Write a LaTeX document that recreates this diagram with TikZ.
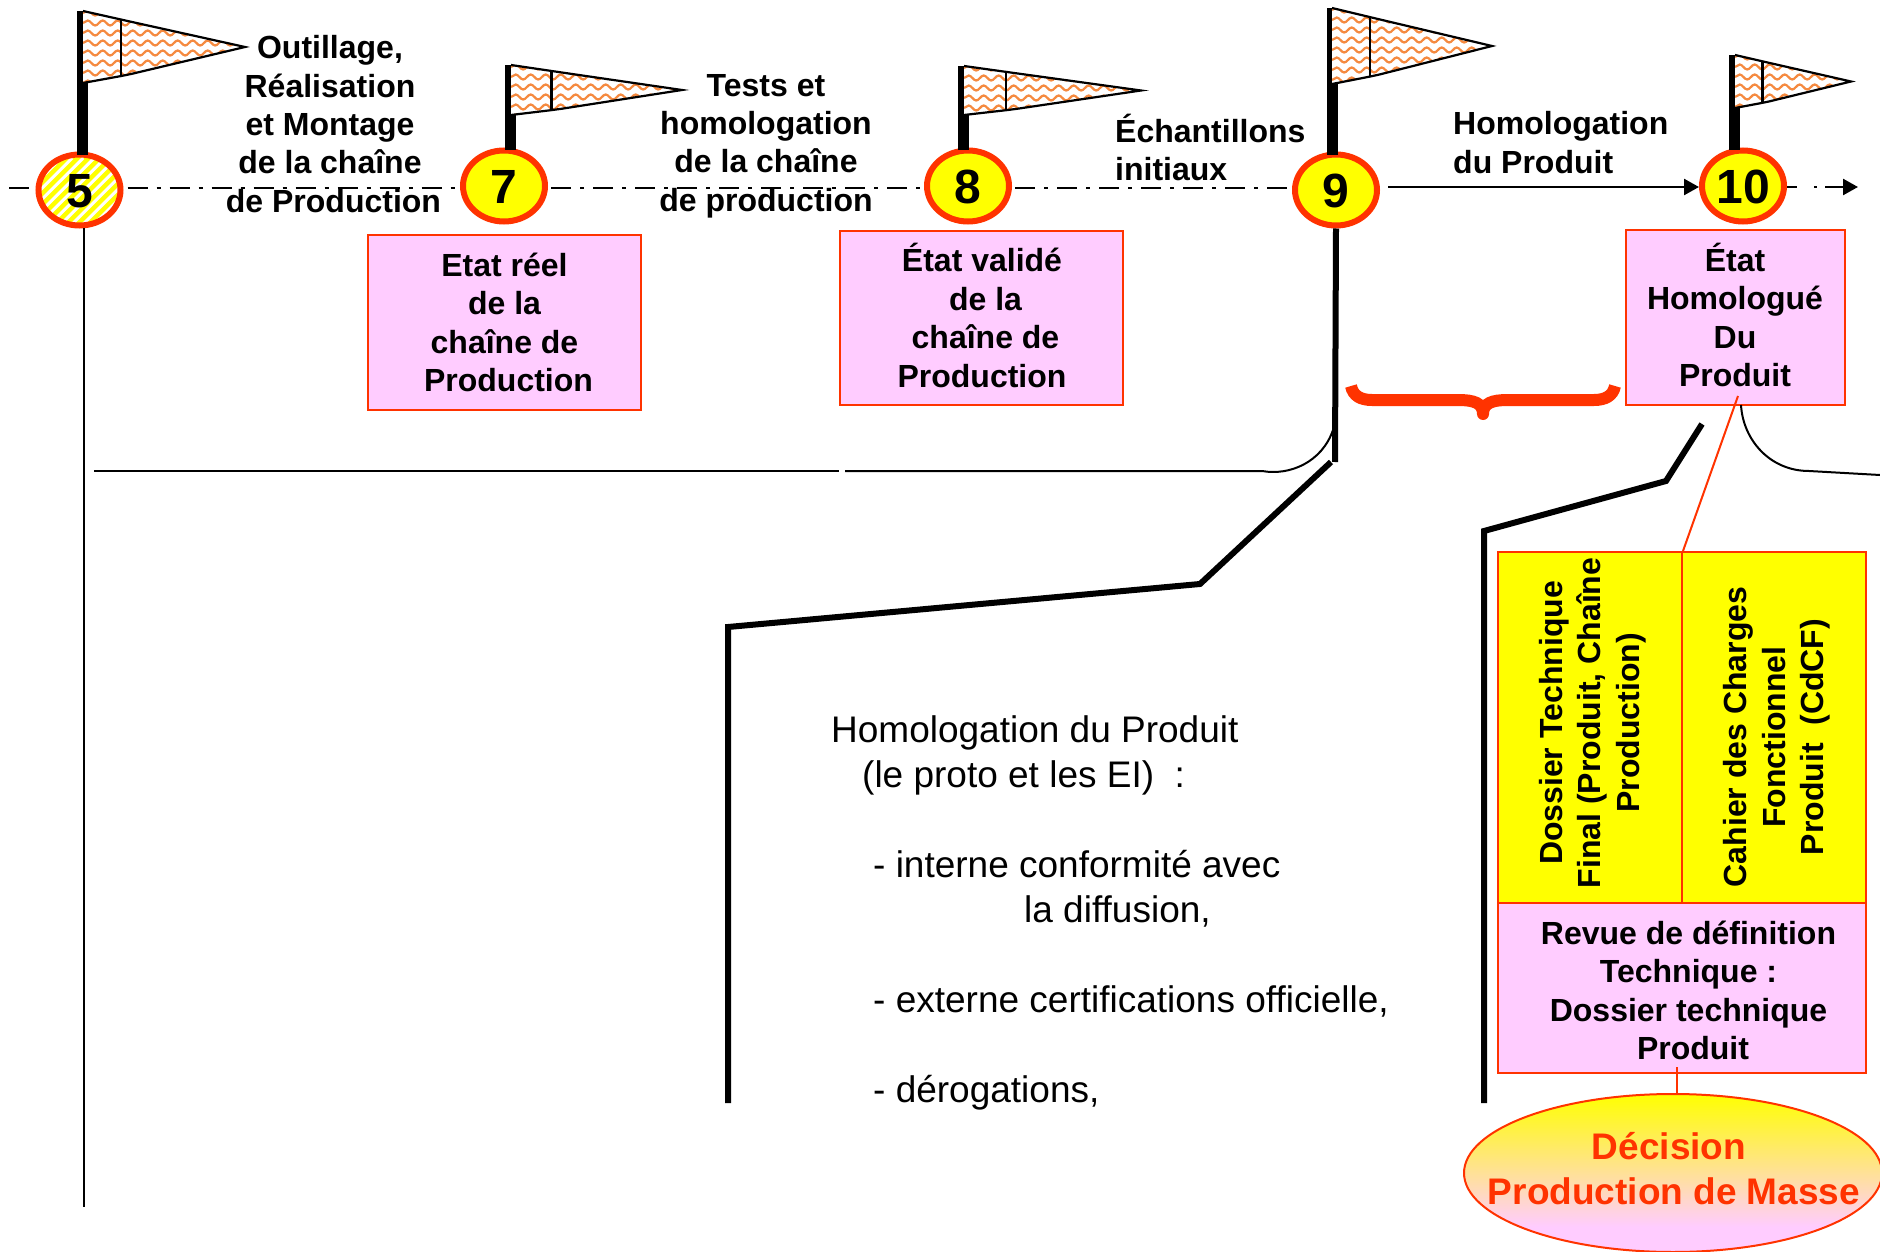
\documentclass[tikz,border=0pt]{standalone}
\usepackage{fontspec}
\setmainfont{Liberation Sans}
\usetikzlibrary{shapes.geometric,arrows.meta,decorations.pathmorphing}
\definecolor{flagred}{HTML}{FF3300}
\definecolor{pinkfill}{HTML}{FFCCFF}
\definecolor{markyellow}{HTML}{FFFF00}
\definecolor{waveorange}{HTML}{F58A40}
\pgfdeclareverticalshading{masseshade}{100bp}{color(0bp)=(pinkfill); color(33bp)=(pinkfill); color(75bp)=(markyellow); color(100bp)=(markyellow)}
\tikzset{
  boldtext/.style={font=\bfseries\fontsize{32}{38.4}\selectfont,align=center,inner sep=0pt},
  plaintext/.style={font=\fontsize{37}{45}\selectfont,align=left,inner sep=0pt},
  markcircle/.style={ellipse,draw=flagred,line width=6pt,fill=markyellow,minimum width=82pt,minimum height=71pt,inner sep=0pt,text height=36pt,text depth=0pt,font=\bfseries\fontsize{48}{48}\selectfont},
  pinkbox/.style={draw=flagred,line width=2pt,fill=pinkfill,inner sep=0pt,boldtext},
  yellowbox/.style={draw=flagred,line width=2pt,fill=markyellow,inner sep=0pt},
  heavyline/.style={line width=6pt,line join=miter},
  thinline/.style={line width=2pt},
  timeline/.style={line width=2.5pt,dash pattern=on 20pt off 9pt on 4pt off 9pt},
  arrowline/.style={line width=2.5pt,-{Triangle[length=15pt,width=16pt]}},
  wave/.style={draw=waveorange,line width=2.2pt,decorate,decoration={snake,amplitude=2.5pt,segment length=15pt}}
}
\newcommand{\flagmark}[4]{
\begin{scope}[shift={(#1,#2)},xscale=#3/165,yscale=#4/72]
\fill[white] (0,0) -- (50,11) -- (165,36) -- (49,63) -- (39,65) -- (0,72) -- cycle;
\begin{scope}
\clip (0,0) -- (50,11) -- (165,36) -- (49,63) -- (39,65) -- (0,72) -- cycle;
\foreach \r in {0,...,9}
\draw[wave] (0,{(\r*10+2)*72/#4}) -- (170,{(\r*10+2)*72/#4});
\end{scope}
\draw[line width=2.2pt,line join=miter] (0,0) -- (50,11) -- (165,36) -- (49,63) -- (39,65) -- (0,72);
\draw[line width=2.2pt] (39,9) -- (39,65);
\end{scope}
}
\begin{document}
\begin{tikzpicture}[x=1pt,y=-1pt]
\useasboundingbox (0,0) rectangle (1880,1252);

\node[markcircle,path picture={
\foreach \d in {-110,-99,...,110}
\draw[white,line width=3pt] (\d-50,50) -- (\d+50,-50);
}] (c5) at (79.5,190) {5};
\node[markcircle] (c7) at (504,186) {7};
\node[markcircle] (c8) at (968,186) {8};
\node[markcircle] (c9) at (1336,190) {9};
\node[markcircle] (c10) at (1743,186) {10};

\coordinate (lineStart) at (9,188);
\coordinate (lineEnd) at (1858,187);
\draw[timeline,shorten >=5pt] (lineStart) -- (c5.west |- lineStart);
\draw[timeline,shorten <=4pt] (c5.east |- lineStart) -- (c7.west |- lineStart);
\draw[timeline,shorten <=3pt] (c7.east |- lineStart) -- (c8.west |- lineStart);
\draw[timeline,shorten <=3pt] (c8.east |- lineStart) -- (c9.west |- lineStart);
\draw[arrowline,shorten <=8pt] (c9.east |- lineEnd) -- (c10.west |- lineEnd);
\draw[arrowline,dash pattern=on 10pt off 17pt on 3pt off 8pt on 40pt] (c10.east |- lineEnd) -- (lineEnd);

\fill (77,11) rectangle (88,155);
\fill (505,65) rectangle (516,150);
\fill (958,66) rectangle (969,150);
\fill (1327,8) rectangle (1338,155);
\fill (1729,55) rectangle (1740,150);
\flagmark{83}{11}{162}{72}
\flagmark{511}{65}{171}{50}
\flagmark{964}{66}{177}{49}
\flagmark{1332}{8}{160}{76}
\flagmark{1735}{55}{116}{53}

\node[boldtext] (tOutillage) at (330,124) {Outillage,\\Réalisation\\et Montage\\de la chaîne\\\hspace*{7pt}de Production};
\node[boldtext] (tTests) at (766,146) {Tests et\\homologation\\de la chaîne\hspace*{7pt}\\de production};
\node[boldtext,align=left,anchor=west] (tEchant) at (1115,147.5) {Échantillons\\initiaux};
\node[boldtext,align=left,anchor=west] (tHomol) at (1453,142.5) {Homologation\\du Produit};

\node[pinkbox,minimum width=273pt,minimum height=175pt] (bEtat) at (504.5,322.5) {Etat réel\\de la\\chaîne de\\\hspace*{8pt}Production};
\node[pinkbox,minimum width=283pt,minimum height=174pt] (bValide) at (981.5,318) {};
\node[boldtext] (tValide) at (982,315.5) {État validé\\\hspace*{7pt}de la\\\hspace*{7pt}chaîne de\\Production};
\node[pinkbox,minimum width=219pt,minimum height=175pt] (bHomol) at (1735.5,317.5) {};
\node[boldtext] (tHomolog) at (1735,315) {État\\Homologué\\Du\\Produit};

\node[yellowbox,minimum width=184pt,minimum height=351pt] (bDossier) at (1590,727.5) {};
\node[yellowbox,minimum width=184pt,minimum height=351pt] (bCahier) at (1774,727.5) {};
\node[pinkbox,minimum width=368pt,minimum height=170pt] (bRevue) at (1682,988) {};
\node[boldtext,rotate=90] (tDossier) at (1592.5,723) {Dossier Technique\\Final (Produit, Chaîne\\Production)};
\node[boldtext,rotate=90] (tCahier) at (1777,737) {Cahier des Charges\\Fonctionnel\\Produit\ \ (CdCF)};
\node[boldtext] (tRevue) at (1688.5,990.5) {Revue de définition\\Technique :\\Dossier technique\\\hspace*{9pt}Produit};

\node[ellipse,draw=flagred,line width=2pt,shading=masseshade,minimum width=418pt,minimum height=158pt,inner sep=0pt] (dMasse) at (1673,1173) {};
\node[inner sep=0pt,align=center,text=flagred,font=\bfseries\fontsize{37}{45}\selectfont] (tMasse) at (1674,1169) {Décision\hspace*{10pt}\\Production de Masse};

\node[plaintext,anchor=west] (tText) at (831,913) {Homologation du Produit\\
\hspace*{31pt}(le proto et les EI)\ \ :\\
\mbox{}\\
\hspace*{42pt}- interne conformité avec\\
\hspace*{193pt}la diffusion,\\
\mbox{}\\
\hspace*{42pt}- externe certifications officielle,\\
\mbox{}\\
\hspace*{42pt}- dérogations,};

\coordinate (end5) at (84,1207);
\draw[thinline] (end5 |- c5.south) -- (end5);

\coordinate (foot9) at (1335,462);
\draw[heavyline] (c9.south) -- (foot9);
\draw[thinline] (94,471) -- (839,471);
\draw[thinline] (845,471) -- (1262,471) .. controls (1290,476) and (1322,462) .. (1333,430);

\coordinate (bendA) at (1200,584);
\coordinate (bendB) at (728,627);
\coordinate (bendC) at (728,1103);
\draw[heavyline] (1331,462) -- (bendA) -- (bendB) -- (bendC);
\coordinate (bendD) at (1702,424);
\coordinate (bendE) at (1666,481);
\coordinate (bendF) at (1484,531);
\coordinate (bendG) at (1484,1103);
\draw[heavyline] (bendD) -- (bendE) -- (bendF) -- (bendG);

\draw[draw=flagred,line width=2pt] (1738,396) -- (bDossier.north east);
\draw[draw=flagred,line width=2pt] (1677,1067) -- (1677,1094);
\draw[thinline] (1741,405) .. controls (1743,440) and (1770,471) .. (1809,471) -- (1880,475);

\draw[draw=flagred,line width=12pt] (1351,386) .. controls (1353,396) and (1361,400) .. (1372,400) -- (1458,400) .. controls (1474,400) and (1483,403) .. (1483,414);
\draw[draw=flagred,line width=12pt] (1615,386) .. controls (1613,396) and (1605,400) .. (1594,400) -- (1508,400) .. controls (1492,400) and (1483,403) .. (1483,414);
\fill[flagred] (1483,414) circle (6);
\end{tikzpicture}
\end{document}
